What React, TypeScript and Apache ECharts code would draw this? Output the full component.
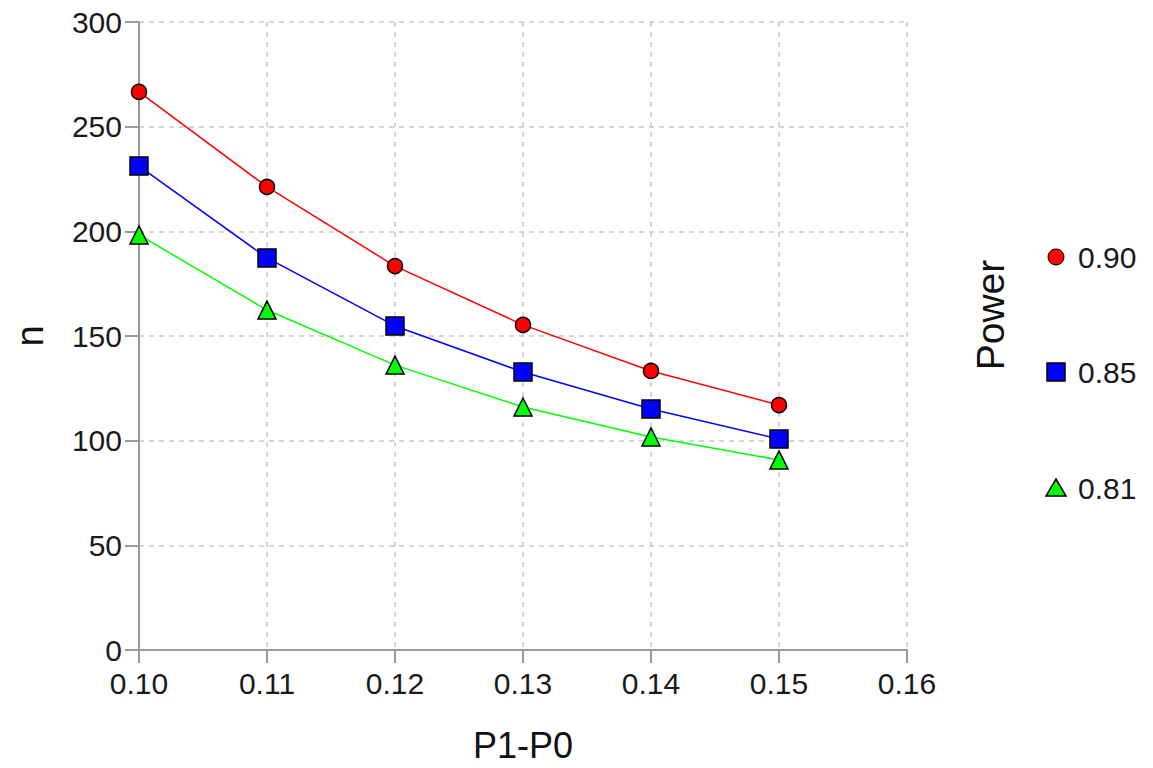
import React, { useEffect, useRef } from "react";
import * as echarts from "echarts";

const xValues = [0.1, 0.11, 0.12, 0.13, 0.14, 0.15];
const seriesNames = ["0.90", "0.85", "0.81"];
const power90 = [266.6, 221.2, 183.4, 155.3, 133.3, 117];
const power85 = [231.2, 187.3, 154.8, 132.8, 115.1, 100.8];
const power81 = [198.3, 162.4, 136.1, 116.1, 101.8, 90.8];
const colors = ["#ff0000", "#0000ff", "#00ff00"];
const symbols = ["circle", "rect", "triangle"];
const symbolSizes = [15, 18, 18];
const legendTitle = "Power";

export default function App() {
  const ref = useRef<HTMLDivElement>(null);
  useEffect(() => {
    if (!ref.current) return;
    const chart = echarts.init(ref.current, undefined, { renderer: "svg" });
    const datas = [power90, power85, power81];
    const font = "Liberation Sans, Arial, sans-serif";
    const textColor = "#1a1a1a";
    const legendX = 1056;
    const legendYs = [257, 372, 488];
    const legendGraphics: any[] = [
      {
        type: "circle",
        shape: { cx: legendX, cy: legendYs[0], r: 8 },
        style: { fill: colors[0], stroke: "#000", lineWidth: 1 },
      },
      {
        type: "rect",
        shape: { x: legendX - 9, y: legendYs[1] - 9, width: 18, height: 18 },
        style: { fill: colors[1], stroke: "#000", lineWidth: 1.5 },
      },
      {
        type: "polygon",
        shape: {
          points: [
            [legendX, legendYs[2] - 9],
            [legendX + 10, legendYs[2] + 8],
            [legendX - 10, legendYs[2] + 8],
          ],
        },
        style: { fill: colors[2], stroke: "#000", lineWidth: 1.5 },
      },
      ...seriesNames.map((n, i) => ({
        type: "text",
        x: 1078,
        y: legendYs[i],
        style: {
          text: n,
          fontSize: 30,
          fill: textColor,
          fontFamily: font,
          textAlign: "left",
          textVerticalAlign: "middle",
        },
      })),
      {
        type: "text",
        x: 990,
        y: 315,
        rotation: Math.PI / 2,
        style: {
          text: legendTitle,
          fontSize: 39,
          fill: "#111",
          fontFamily: font,
          textAlign: "center",
          textVerticalAlign: "middle",
        },
      },
    ];
    chart.setOption({
      animation: false,
      backgroundColor: "#ffffff",
      grid: { left: 139, right: 246, top: 22, bottom: 118, containLabel: false, outerBoundsMode: "none" },
      xAxis: {
        type: "value",
        min: 0.1,
        max: 0.16,
        interval: 0.01,
        name: "P1-P0",
        nameLocation: "middle",
        nameGap: 77,
        nameTextStyle: { fontSize: 36, color: "#111", fontFamily: font },
        axisLine: { show: true, lineStyle: { color: "#999", width: 2 } },
        axisTick: { show: true, length: 13, lineStyle: { color: "#999", width: 2 } },
        axisLabel: {
          fontSize: 30,
          color: textColor,
          fontFamily: font,
          margin: 18,
          formatter: (v: number) => v.toFixed(2),
        },
        splitLine: { show: true, lineStyle: { color: "#c8c8c8", type: [5, 5], width: 1.5 } },
      },
      yAxis: {
        type: "value",
        min: 0,
        max: 300,
        interval: 50,
        name: "n",
        nameLocation: "middle",
        nameGap: 90,
        nameRotate: 90,
        nameTextStyle: { fontSize: 38, color: "#111", fontFamily: font },
        axisLine: { show: true, lineStyle: { color: "#999", width: 2 } },
        axisTick: { show: true, length: 14, lineStyle: { color: "#999", width: 2 } },
        axisLabel: { fontSize: 30, color: textColor, fontFamily: font, margin: 17 },
        splitLine: { show: true, lineStyle: { color: "#c8c8c8", type: [5, 5], width: 1.5 } },
      },
      graphic: legendGraphics,
      series: seriesNames.map((name, i) => ({
        name,
        type: "line",
        data: xValues.map((x, j) => [x, datas[i][j]]),
        symbol: symbols[i],
        symbolSize: symbolSizes[i],
        lineStyle: { color: colors[i], width: 1.5 },
        itemStyle: { color: colors[i], borderColor: "#000", borderWidth: 1.5 },
      })),
    });
    return () => chart.dispose();
  }, []);
  return <div ref={ref} style={{ width: 1153, height: 768, position: "absolute", left: 0, top: 0 }} />;
}
